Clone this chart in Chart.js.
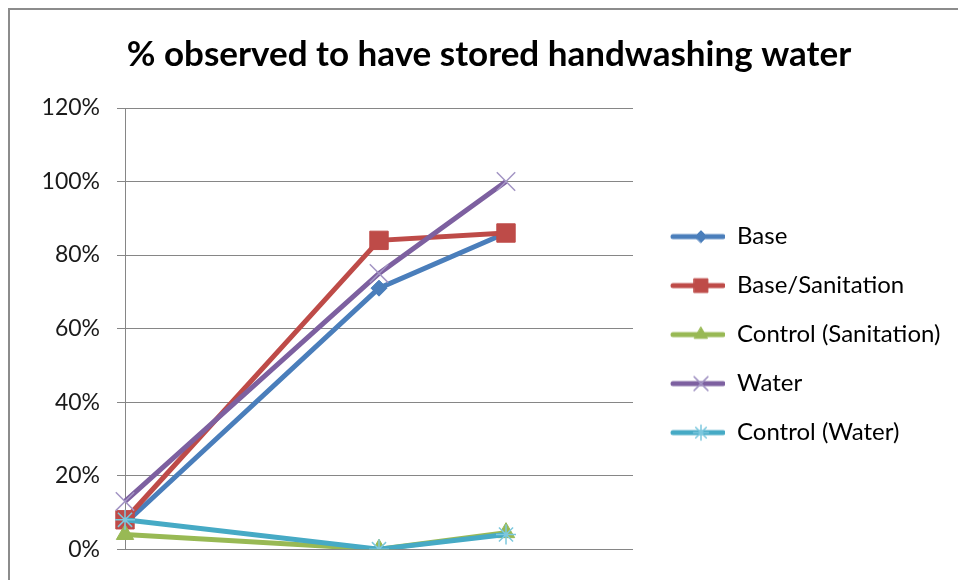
<!DOCTYPE html>
<html>
<head>
<meta charset="utf-8">
<title>% observed to have stored handwashing water</title>
<script src="https://cdn.jsdelivr.net/npm/chart.js@4.4.1/dist/chart.umd.min.js"></script>
<style>
  html, body { margin: 0; padding: 0; background: #fff; overflow: hidden; }
  #wrap { width: 958px; height: 580px; }
</style>
</head>
<body>
<div id="wrap"><canvas id="chart" width="958" height="580"></canvas></div>
<script>
// x categories (labels sit below the visible crop, so they are not drawn)
const categories = ['R1', 'R2', 'R3', 'R4', 'R5'];

const seriesNames = ['Base', 'Base/Sanitation', 'Control (Sanitation)', 'Water', 'Control (Water)'];
const base = [0.07, null, 0.71, 0.86, null];
const baseSanitation = [0.08, null, 0.84, 0.86, null];
const controlSanitation = [0.04, null, 0.0, 0.045, null];
const water = [0.13, null, 0.75, 1.0, null];
const controlWater = [0.08, null, 0.0, 0.04, null];

const yTicks = [0, 0.2, 0.4, 0.6, 0.8, 1.0, 1.2];

const FONT = 'Lato, "Open Sans", sans-serif';
const LEGEND_SIZE = 24;
const LEGEND_PAD = 25;
const SAMPLE_W = 67;
const LINE_W = 5;

// line colour, marker style, marker size, marker colour
const looks = [
  { color: '#4A7EBB', style: 'rectRot', radius: 8, marker: '#4A7EBB', border: 1 },
  { color: '#BE4B48', style: 'rect', radius: 13, marker: '#BE4B48', border: 1 },
  { color: '#98B954', style: 'triangle', radius: 10, marker: '#98B954', border: 1 },
  { color: '#7D60A0', style: 'crossRot', radius: 13, marker: '#A395C4', border: 1.5 },
  { color: '#46AAC5', style: 'star', radius: 10, marker: '#7CC8DE', border: 1.5 }
];

const values = [base, baseSanitation, controlSanitation, water, controlWater];

const datasets = values.map((data, i) => ({
  label: seriesNames[i],
  data: data,
  borderColor: looks[i].color,
  backgroundColor: looks[i].color,
  borderWidth: LINE_W,
  tension: 0,
  spanGaps: true,
  pointStyle: looks[i].style,
  pointRadius: looks[i].radius,
  pointBackgroundColor: looks[i].marker,
  pointBorderColor: looks[i].marker,
  pointBorderWidth: looks[i].border,
  order: values.length - 1 - i // later series on top, like the original
}));

// work out side padding so the plot ends at x=633 with the legend to its right
const measure = document.createElement('canvas').getContext('2d');
measure.font = LEGEND_SIZE + 'px ' + FONT;
const widest = Math.max(...seriesNames.map(n => measure.measureText(n).width));
const legendWidth = LEGEND_PAD + SAMPLE_W + LEGEND_SIZE / 2 + widest + 10;
const padRight = Math.max(0, 958 - 633 - legendWidth);
const padLeft = padRight + 20;

// small line+marker picture used in the legend
function legendSample(look) {
  const c = document.createElement('canvas');
  c.width = SAMPLE_W;
  c.height = 26;
  const ctx = c.getContext('2d');
  ctx.strokeStyle = look.color;
  ctx.lineWidth = LINE_W;
  ctx.lineCap = 'round';
  ctx.beginPath();
  ctx.moveTo(15, 13);
  ctx.lineTo(SAMPLE_W - 2, 13);
  ctx.stroke();
  ctx.fillStyle = look.marker;
  ctx.strokeStyle = look.marker;
  ctx.lineWidth = look.border;
  Chart.helpers.drawPoint(ctx, {
    pointStyle: look.style,
    radius: look.radius * 0.75,
    rotation: 0,
    borderWidth: look.border
  }, 43, 13);
  return c;
}

const frame = {
  id: 'frame',
  beforeDraw(chart) {
    const ctx = chart.ctx;
    ctx.save();
    ctx.fillStyle = '#fff';
    ctx.fillRect(0, 0, chart.width, chart.height);
    ctx.strokeStyle = '#8c8c8c';
    ctx.lineWidth = 2;
    ctx.strokeRect(9, 9, 2000, 2000);
    ctx.restore();
  }
};

new Chart(document.getElementById('chart'), {
  type: 'line',
  data: { labels: categories, datasets: datasets },
  options: {
    responsive: false,
    animation: false,
    devicePixelRatio: 1,
    events: [],
    layout: { padding: { left: padLeft, right: padRight, top: 0, bottom: 23 } },
    scales: {
      x: { display: false, offset: false },
      y: {
        min: yTicks[0],
        max: yTicks[yTicks.length - 1],
        afterBuildTicks: scale => { scale.ticks = yTicks.map(v => ({ value: v })); },
        afterFit: scale => { scale.width = 125 - padLeft; },
        grid: { color: '#868686', lineWidth: 1, tickLength: 8 },
        border: { color: '#868686', width: 1 },
        ticks: {
          padding: 17,
          color: '#1a1a1a',
          font: { family: FONT, size: 23 },
          callback: v => Math.round(v * 100) + '%'
        }
      }
    },
    plugins: {
      title: {
        display: true,
        text: '% observed to have stored handwashing water',
        color: '#000',
        font: { family: FONT, size: 35, weight: 'bold' },
        padding: { top: 34, bottom: 32 }
      },
      legend: {
        position: 'right',
        fullSize: false,
        maxWidth: 400,
        title: { display: true, text: ' ', font: { size: 10 }, padding: 0 },
        labels: {
          usePointStyle: true,
          pointStyleWidth: SAMPLE_W,
          padding: LEGEND_PAD,
          color: '#000',
          font: { family: FONT, size: LEGEND_SIZE },
          generateLabels: chart => chart.data.datasets.map((ds, i) => ({
            text: ds.label,
            pointStyle: legendSample(looks[i]),
            fillStyle: looks[i].color,
            strokeStyle: looks[i].color,
            lineWidth: 0,
            fontColor: '#000',
            hidden: false,
            datasetIndex: i
          }))
        }
      },
      tooltip: { enabled: false }
    }
  },
  plugins: [frame]
});
</script>
</body>
</html>
